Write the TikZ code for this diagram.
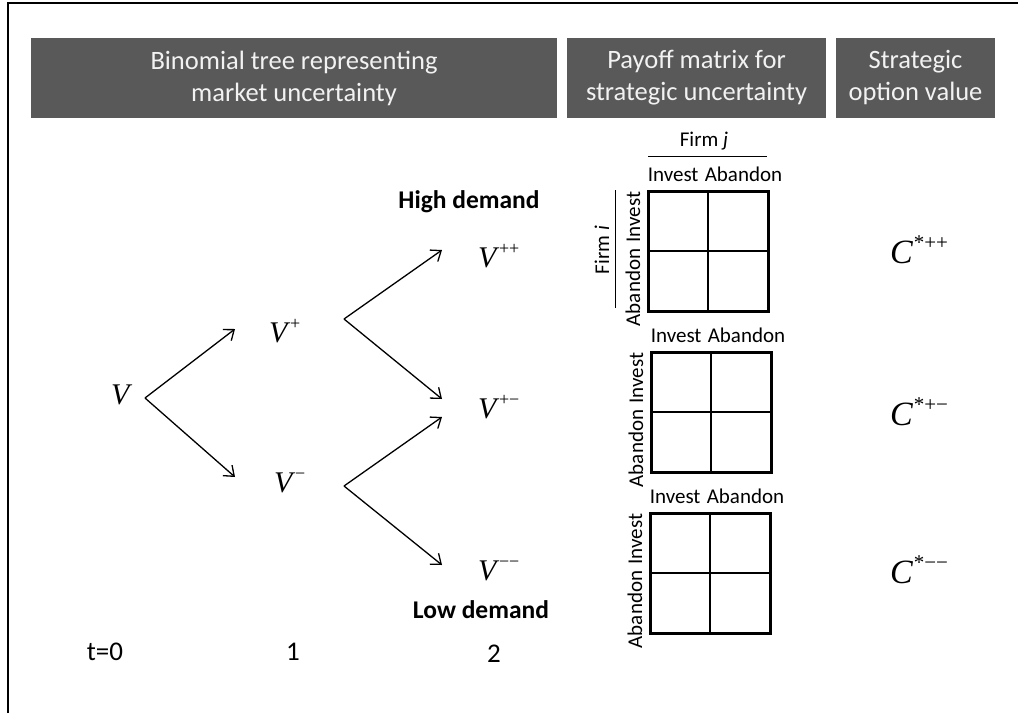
\documentclass[tikz,border=0pt]{standalone}
\usepackage{fontspec}
\setmainfont{Carlito}
\newfontfamily\tms{Liberation Serif}
\usetikzlibrary{arrows.meta}

% value symbols: italic letter with an upright superscript
\newcommand\valsym[2]{{\tms\itshape #1}\kern2.5pt\raisebox{0.42em}{\fontsize{18}{18}\selectfont\tms #2}}
\newcommand\optsym[1]{{\tms\itshape C}\kern1pt\raisebox{0.40em}{\fontsize{21}{21}\selectfont\tms *#1}}

\tikzset{
  header/.style={fill=hdrgray, text=hdrtext, inner sep=0pt, align=center,
    font=\fontsize{26.5}{32}\selectfont},
  valnode/.style={inner sep=0pt, anchor=base west, font=\fontsize{30}{30}\selectfont},
  optnode/.style={inner sep=0pt, anchor=base west, font=\fontsize{34}{34}\selectfont},
  branch/.style={line width=1.3pt, -{Straight Barb[length=9pt,width=14pt,line width=1.3pt]}},
  demand/.style={inner sep=0pt, font=\fontsize{25.5}{30}\selectfont\bfseries},
  period/.style={inner sep=0pt, font=\fontsize{27}{30}\selectfont},
  strat/.style={inner sep=0pt, font=\fontsize{21}{24}\selectfont},
  outerbox/.style={line width=3pt},
  innerline/.style={line width=1.5pt}
}
\definecolor{hdrgray}{HTML}{595959}
\definecolor{hdrtext}{HTML}{F2F2F2}

\begin{document}
\begin{tikzpicture}[x=1pt,y=-1pt]
\useasboundingbox (0,0) rectangle (1018,713);

% frame
\draw[line width=1.5pt] (8,713) -- (8,3) -- (1018,3);

% column headers
\node[header, minimum width=526pt, minimum height=80pt] (h1) at (294,78)
  {Binomial tree representing\\market uncertainty};
\node[header, minimum width=259pt, minimum height=80pt] (h2) at (696.5,78)
  {Payoff matrix for\\strategic uncertainty};
\node[header, minimum width=159pt, minimum height=80pt] (h3) at (915.5,78)
  {Strategic\\option value};

% binomial tree values
\node[valnode] (v0)  at (111,404) {{\tms\itshape V}};
\node[valnode] (vu)  at (269,342) {\valsym{V}{+}};
\node[valnode] (vd)  at (274,492) {\valsym{V}{−}};
\node[valnode] (vuu) at (478,267) {\valsym{V}{++}};
\node[valnode] (vud) at (478,418) {\valsym{V}{+−}};
\node[valnode] (vdd) at (478,580) {\valsym{V}{−−}};

% branch points and arrow tips
\coordinate (f0) at (145,398);
\coordinate (fu) at (344,319);
\coordinate (fd) at (344,486);
\coordinate (t0u) at (235,329);
\coordinate (t0d) at (235,477);
\coordinate (tuu) at (442,250);
\coordinate (tud) at (442,399);
\coordinate (tdu) at (442,417);
\coordinate (tdd) at (442,565);

\draw[branch] (f0) -- (t0u);
\draw[branch] (f0) -- (t0d);
\draw[branch] (fu) -- (tuu);
\draw[branch] (fu) -- (tud);
\draw[branch] (fd) -- (tdu);
\draw[branch] (fd) -- (tdd);

\node[demand] (high) at (469,202) {High demand};
\node[demand] (low)  at (481,610) {Low demand};

\node[period] (p0) at (105,652) {t=0};
\node[period] (p1) at (293,652) {1};
\node[period] (p2) at (494,654) {2};

% payoff matrices
\foreach \name/\x/\y in {m1/648/191, m2/651/352, m3/650/513}{
  \draw[outerbox] (\x,\y) rectangle ++(120,120);
  \draw[innerline] (\x+60,\y) -- ++(0,120);
  \draw[innerline] (\x,\y+60) -- ++(120,0);
  \node[strat] (\name-top) at (\x+67,\y-17) {Invest\hspace{0.3em}Abandon};
  \node[strat, rotate=90] (\name-side) at (\x-15,\y+68) {Abandon\hspace{0.3em}Invest};
}

% player labels
\node[strat] (firmj) at (704,141) {Firm \textit{j}};
\draw[line width=1pt] (648,156) -- (767,156);
\node[strat, rotate=90] (firmi) at (602,250) {Firm \textit{i}};
\draw[line width=1pt] (615,190) -- (615,308);

% strategic option values
\node[optnode] (cuu) at (890,263) {\optsym{++}};
\node[optnode] (cud) at (890,425) {\optsym{+−}};
\node[optnode] (cdd) at (890,583) {\optsym{−−}};
\end{tikzpicture}
\end{document}
